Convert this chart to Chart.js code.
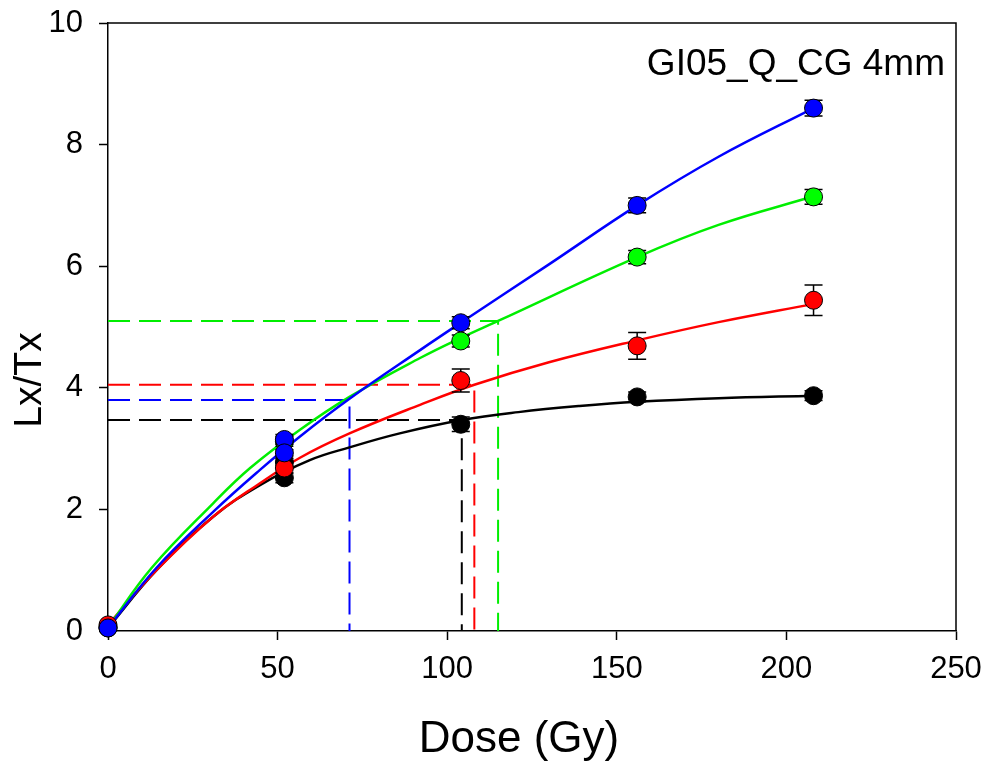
<!DOCTYPE html>
<html lang="en">
<head>
<meta charset="UTF-8">
<title>GI05_Q_CG 4mm dose response</title>
<script src="https://cdn.jsdelivr.net/npm/chart.js"></script>
<style>
  html, body { margin: 0; padding: 0; background: #fff; }
  #wrap { width: 990px; height: 764px; }
</style>
</head>
<body>
<div id="wrap"><canvas id="doseChart" width="990" height="764"></canvas></div>
<script>
// measured points (dose in Gy, Lx/Tx, error)
const blueDose  = [0, 52, 52, 104, 156, 208];
const blueLx    = [0.05, 3.15, 2.93, 5.07, 7.00, 8.60];
const blueErr   = [0.03, 0.08, 0.05, 0.10, 0.12, 0.13];
const greenDose = [0, 52, 104, 156, 208];
const greenLx   = [0.06, 3.12, 4.77, 6.15, 7.14];
const greenErr  = [0.03, 0.08, 0.10, 0.11, 0.12];
const redDose   = [0, 52, 104, 156, 208];
const redLx     = [0.10, 2.68, 4.12, 4.69, 5.44];
const redErr    = [0.03, 0.08, 0.19, 0.22, 0.25];
const blackDose = [0, 52, 52, 104, 156, 208];
const blackLx   = [0.05, 2.52, 2.78, 3.40, 3.85, 3.87];
const blackErr  = [0.03, 0.08, 0.06, 0.12, 0.08, 0.08];

// fitted curves
const blueFitX  = [0, 14.3, 31, 44.8, 56.6, 71.2, 92, 104, 130, 156, 180, 208];
const blueFitY  = [0.05, 1.04, 1.96, 2.65, 3.20, 3.82, 4.62, 5.07, 6.03, 7.00, 7.80, 8.60];
const greenFitX = [0, 12.9, 31, 41.9, 56.6, 71.2, 92, 104, 115, 156, 180, 208];
const greenFitY = [0.06, 1.04, 2.10, 2.68, 3.31, 3.85, 4.49, 4.82, 5.10, 6.15, 6.68, 7.15];
const redFitX   = [0, 14.3, 31, 44.8, 56.6, 71.2, 92, 108, 130, 156, 180, 208];
const redFitY   = [0.10, 1.00, 1.88, 2.43, 2.85, 3.25, 3.72, 4.05, 4.42, 4.78, 5.08, 5.38];
const blackFitX = [0, 14.3, 31, 44.8, 59.5, 71.2, 86, 104.3, 121, 139, 156, 180, 208];
const blackFitY = [0.05, 1.00, 1.88, 2.40, 2.81, 3.02, 3.25, 3.47, 3.60, 3.70, 3.77, 3.83, 3.87];

// equivalent dose read-offs: [dose, Lx/Tx]
const blueDe  = [71.2, 3.80];
const blackDe = [104.3, 3.47];
const redDe   = [108, 4.05];
const greenDe = [115, 5.10];

const xTicks = [0, 50, 100, 150, 200, 250];
const yTicks = [0, 2, 4, 6, 8, 10];
const label = 'GI05_Q_CG 4mm';
const xTitle = 'Dose (Gy)';
const yTitle = 'Lx/Tx';

const FONT = '"Liberation Sans", Arial, sans-serif';

function pts(xs, ys) {
  return xs.map((x, i) => ({ x: x, y: ys[i] }));
}

function pointSet(name, xs, ys, errs, color, order) {
  return {
    label: name, type: 'scatter', data: pts(xs, ys), errors: errs,
    backgroundColor: color, borderColor: '#000', borderWidth: 1,
    pointRadius: 9, showLine: false, clip: false, order: order
  };
}

function fitSet(name, xs, ys, color) {
  return {
    label: name, type: 'line', data: pts(xs, ys),
    borderColor: color, borderWidth: 2.5, pointRadius: 0,
    tension: 0.4, fill: false, order: 6
  };
}

function deSet(name, de, color) {
  return {
    label: name, type: 'line',
    data: [{ x: 0, y: de[1] }, { x: de[0], y: de[1] }, { x: de[0], y: 0 }],
    borderColor: color, borderWidth: 2, borderDash: [22, 9],
    pointRadius: 0, tension: 0, fill: false, order: 10
  };
}

// error bars drawn just before each point set
const errorBars = {
  id: 'errorBars',
  beforeDatasetDraw(chart, args) {
    const ds = chart.data.datasets[args.index];
    if (!ds.errors) return;
    const ctx = chart.ctx, xs = chart.scales.x, ys = chart.scales.y;
    ctx.save();
    ctx.strokeStyle = '#000';
    ctx.lineWidth = 1.5;
    ds.data.forEach((p, i) => {
      const e = ds.errors[i];
      const px = xs.getPixelForValue(p.x);
      const top = ys.getPixelForValue(p.y + e);
      const bot = ys.getPixelForValue(p.y - e);
      ctx.beginPath();
      ctx.moveTo(px, top); ctx.lineTo(px, bot);
      ctx.moveTo(px - 9, top); ctx.lineTo(px + 9, top);
      ctx.moveTo(px - 9, bot); ctx.lineTo(px + 9, bot);
      ctx.stroke();
    });
    ctx.restore();
  }
};

// top/right frame, axis titles and the sample label
const frame = {
  id: 'frame',
  afterDraw(chart) {
    const a = chart.chartArea, ctx = chart.ctx;
    ctx.save();
    ctx.strokeStyle = '#000';
    ctx.lineWidth = 1.5;
    ctx.beginPath();
    ctx.moveTo(a.left, a.top); ctx.lineTo(a.right, a.top); ctx.lineTo(a.right, a.bottom);
    ctx.stroke();
    ctx.fillStyle = '#000';
    ctx.font = '37px ' + FONT;
    ctx.textAlign = 'right';
    ctx.textBaseline = 'alphabetic';
    ctx.fillText(label, a.right - 11, a.top + 52);

    ctx.textAlign = 'center';
    ctx.textBaseline = 'middle';
    ctx.font = '44px ' + FONT;
    ctx.fillText(xTitle, 519, 740);
    ctx.translate(30, 380);
    ctx.rotate(-Math.PI / 2);
    ctx.font = '39px ' + FONT;
    ctx.fillText(yTitle, 0, 0);
    ctx.restore();
  }
};

new Chart(document.getElementById('doseChart'), {
  data: {
    datasets: [
      pointSet('blue', blueDose, blueLx, blueErr, '#0000ff', 1),
      pointSet('red', redDose, redLx, redErr, '#ff0000', 2),
      pointSet('green', greenDose, greenLx, greenErr, '#00ff00', 3),
      pointSet('black', blackDose, blackLx, blackErr, '#000000', 4),
      fitSet('blue fit', blueFitX, blueFitY, '#0000ff'),
      fitSet('green fit', greenFitX, greenFitY, '#00ee00'),
      fitSet('red fit', redFitX, redFitY, '#ff0000'),
      fitSet('black fit', blackFitX, blackFitY, '#000000'),
      deSet('blue De', blueDe, '#0000ff'),
      deSet('black De', blackDe, '#000000'),
      deSet('red De', redDe, '#ff0000'),
      deSet('green De', greenDe, '#00ee00')
    ]
  },
  options: {
    responsive: false,
    animation: false,
    layout: { padding: { top: 23, right: 34, left: 0, bottom: 0 } },
    plugins: { legend: { display: false }, tooltip: { enabled: false } },
    scales: {
      x: {
        type: 'linear', min: 0, max: 250,
        afterBuildTicks: s => { s.ticks = xTicks.map(v => ({ value: v })); },
        afterFit: s => { s.height = 133; s.paddingLeft = 0; s.paddingRight = 0; },
        border: { color: '#000', width: 1.5 },
        grid: { drawOnChartArea: false, tickLength: 9, tickColor: '#000', tickWidth: 1.5 },
        ticks: { color: '#000', font: { family: FONT, size: 31 }, padding: 11, maxRotation: 0 }
      },
      y: {
        type: 'linear', min: 0, max: 10,
        afterBuildTicks: s => { s.ticks = yTicks.map(v => ({ value: v })); },
        afterFit: s => { s.width = 108; s.paddingTop = 0; s.paddingBottom = 0; },
        border: { color: '#000', width: 1.5 },
        grid: { drawOnChartArea: false, tickLength: 9, tickColor: '#000', tickWidth: 1.5 },
        ticks: { color: '#000', font: { family: FONT, size: 31 }, padding: 16 }
      }
    }
  },
  plugins: [errorBars, frame]
});
</script>
</body>
</html>
